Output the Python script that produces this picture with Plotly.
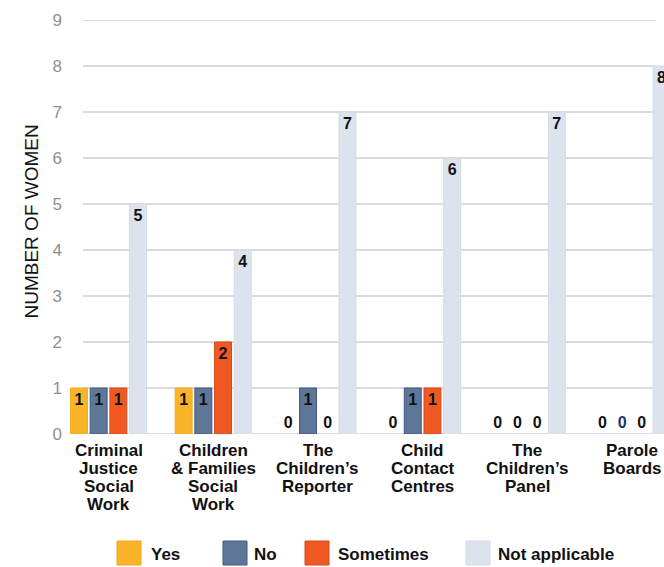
import plotly.graph_objects as go

# ---- data ----
categories = [
    "Criminal\nJustice\nSocial\nWork",
    "Children\n& Families\nSocial\nWork",
    "The\nChildren’s\nReporter",
    "Child\nContact\nCentres",
    "The\nChildren’s\nPanel",
    "Parole\nBoards",
]
series_names = ["Yes", "No", "Sometimes", "Not applicable"]
yes_vals = [1, 1, 0, 0, 0, 0]
no_vals = [1, 1, 1, 1, 0, 0]
sometimes_vals = [1, 2, 0, 1, 0, 0]
na_vals = [5, 4, 7, 6, 7, 8]
y_ticks = [0, 1, 2, 3, 4, 5, 6, 7, 8, 9]
y_title = "NUMBER OF WOMEN"

# ---- styles ----
colors = ["#F9B52A", "#5E7698", "#F05A22", "#DCE3EC"]
line_colors = ["#F3A91C", "#3E5882", "#D9481A", "#D3DBE6"]
W, H = 664, 567
ML, MR, MT, MB = 68, 0, 20, 133
plot_w = W - ML - MR
plot_h = H - MT - MB
px_per_unit = 104.7
x_left = -(108.5 - ML) / px_per_unit
x_right = x_left + plot_w / px_per_unit

def pxx(p):
    return (p - ML) / plot_w

def pxy(p):
    return (H - MB - p) / plot_h

xs = list(range(len(categories)))
fig = go.Figure()
all_vals = [yes_vals, no_vals, sometimes_vals, na_vals]
for i, (name, vals) in enumerate(zip(series_names, all_vals)):
    tcol = ["#111111"] * len(vals)
    if name == "No":
        tcol[-1] = "#1F3566"
    fig.add_trace(go.Bar(
        x=xs, y=vals, name=name,
        marker=dict(color=colors[i],
                    line=dict(color=line_colors[i],
                              width=[0 if v == 0 else 1 for v in vals])),
        text=[str(v) for v in vals],
        textposition=["outside" if v == 0 else "inside" for v in vals],
        insidetextanchor="end",
        textangle=0,
        textfont=dict(family="Liberation Sans", size=16, color=tcol, weight="bold"),
        cliponaxis=True,
        showlegend=False,
        hoverinfo="skip",
    ))

# gridlines
for t in y_ticks:
    fig.add_shape(type="line", xref="x", yref="y",
                  x0=(83 - 108.5) / px_per_unit, x1=(656 - 108.5) / px_per_unit,
                  y0=t, y1=t, line=dict(color="#B4B7C0", width=1),
                  layer="below")

# category labels (one annotation per line)
for i, cat in enumerate(categories):
    for k, line in enumerate(cat.split("\n")):
        fig.add_annotation(x=i, xref="x", y=0, yref="paper",
                           yshift=-(16 + 18.2 * k), yanchor="middle",
                           text=line, showarrow=False,
                           font=dict(family="Liberation Sans", size=17,
                                     color="#111111", weight="bold"))

# y title
fig.add_annotation(x=0, xref="paper", xshift=18 - ML, y=0.5, yref="paper",
                   yshift=5, text=y_title, textangle=-90, showarrow=False,
                   font=dict(family="Liberation Sans", size=19, color="#111111"))

# custom legend
legend_swatch_x = [117, 223, 305, 466]
legend_text_x = [149, 252, 336, 496]
for i, name in enumerate(series_names):
    fig.add_shape(type="rect", xref="paper", yref="paper",
                  x0=pxx(legend_swatch_x[i]), x1=pxx(legend_swatch_x[i] + 24),
                  y0=pxy(541), y1=pxy(565),
                  fillcolor=colors[i], line=dict(color=line_colors[i], width=1))
    fig.add_annotation(x=pxx(legend_text_x[i]), xref="paper", xanchor="left",
                       y=pxy(554), yref="paper", yanchor="middle",
                       text=name, showarrow=False,
                       font=dict(family="Liberation Sans", size=17,
                                 color="#111111", weight="bold"))

fig.update_layout(
    width=W, height=H,
    margin=dict(l=ML, r=MR, t=MT, b=MB, pad=0),
    paper_bgcolor="white", plot_bgcolor="white",
    barmode="group", bargap=0.247, bargroupgap=0.14,
    xaxis=dict(range=[x_left, x_right], showticklabels=False, showgrid=False,
               zeroline=False, showline=False, ticks=""),
    yaxis=dict(range=[0, 9], tickvals=y_ticks, showgrid=False, zeroline=False,
               showline=False, ticks="", ticklabelstandoff=5,
               tickfont=dict(family="Liberation Sans", size=17, color="#8F8F8F")),
)

fig.write_html("out.html")
